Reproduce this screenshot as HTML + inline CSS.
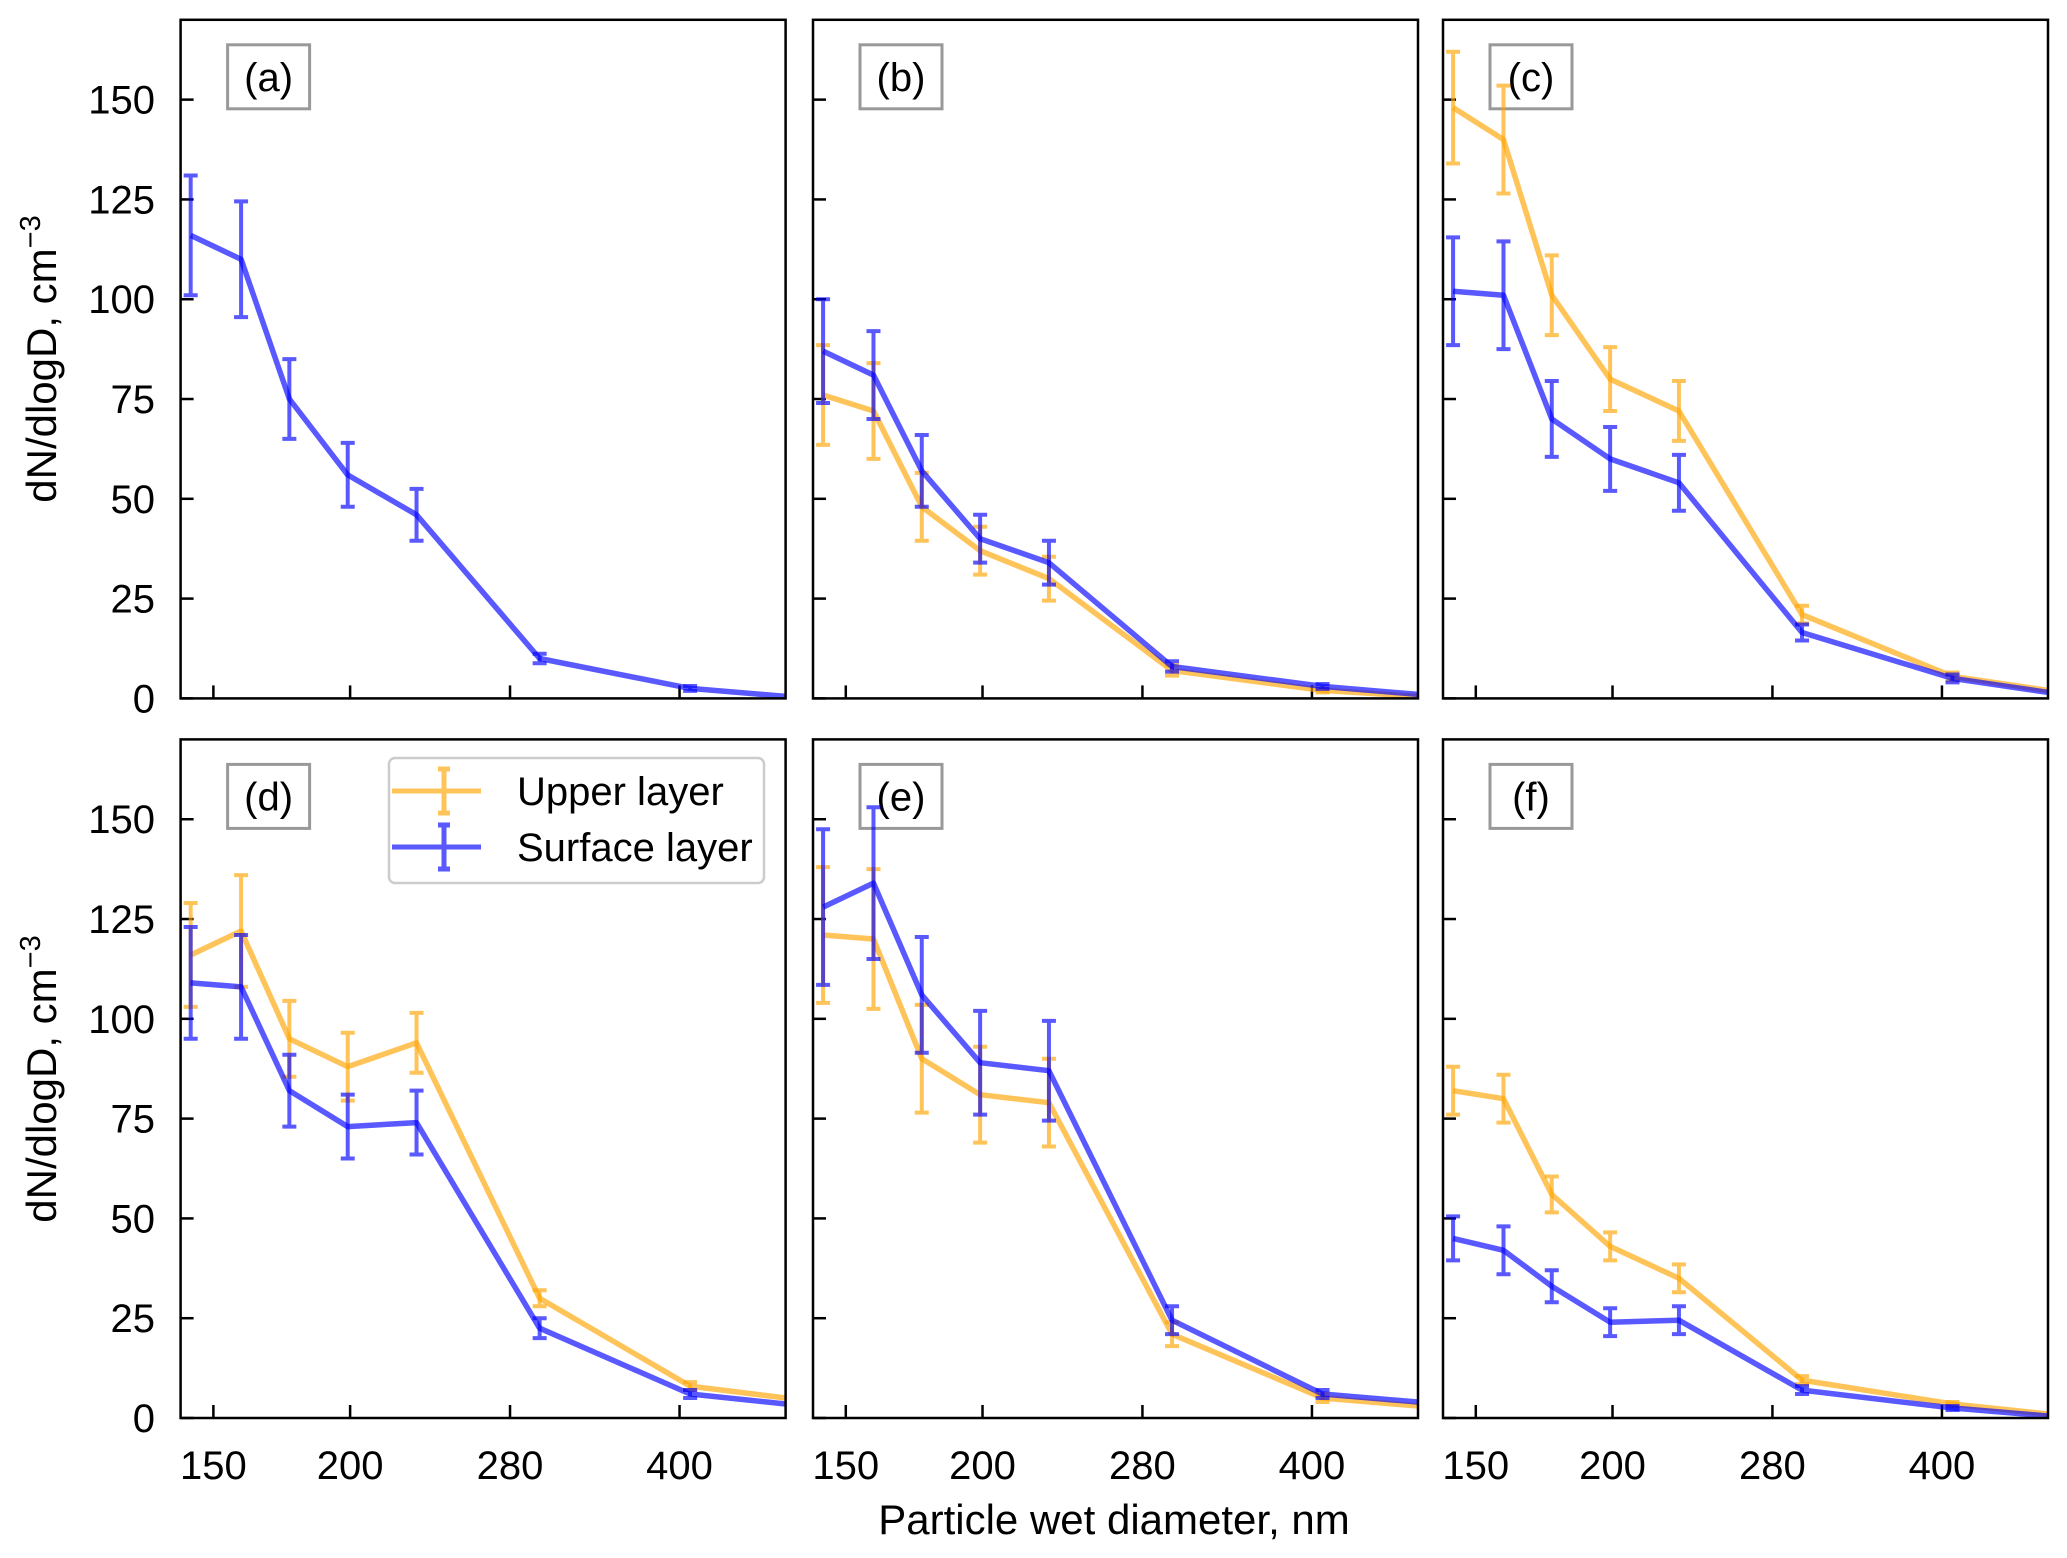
<!DOCTYPE html>
<html><head><meta charset="utf-8">
<style>
html,body{margin:0;padding:0;background:#fff;}
svg{display:block;font-family:"Liberation Sans",Arial,sans-serif;}
</style></head>
<body>
<svg id="chart" width="2067" height="1558" viewBox="0 0 2067 1558" xmlns="http://www.w3.org/2000/svg">
<text x="1114" y="1534" font-size="42" text-anchor="middle">Particle wet diameter, nm</text>
<text transform="translate(56,359) rotate(-90)" font-size="42" text-anchor="middle">dN/dlogD, cm<tspan dy="-16" font-size="29">−3</tspan></text>
<text transform="translate(56,1079) rotate(-90)" font-size="42" text-anchor="middle">dN/dlogD, cm<tspan dy="-16" font-size="29">−3</tspan></text>
</svg>
<script>
const diameters = [143, 159, 176, 199, 230, 298, 409, 500];
const yTicks = [0, 25, 50, 75, 100, 125, 150];
const xTicks = [150, 200, 280, 400];
const panelLabels = ['(a)', '(b)', '(c)', '(d)', '(e)', '(f)'];

const upperA = null, upperAErr = null;
const surfaceA = [116, 110, 75, 56, 46, 10, 2.5, 0.5];
const surfaceAErr = [15, 14.5, 10, 8, 6.5, 1.2, 0.6, 0];

const upperB = [76, 72, 48, 37, 30, 7, 2, 0.5];
const upperBErr = [12.5, 12, 8.5, 6, 5.5, 1.3, 0.5, 0];
const surfaceB = [87, 81, 57, 40, 34, 8, 3, 1];
const surfaceBErr = [13, 11, 9, 6, 5.5, 1.3, 0.6, 0];

const upperC = [148, 140, 101, 80, 72, 21, 5.5, 2];
const upperCErr = [14, 13.5, 10, 8, 7.5, 2.2, 1, 0];
const surfaceC = [102, 101, 70, 60, 54, 16.5, 5, 1.5];
const surfaceCErr = [13.5, 13.5, 9.5, 8, 7, 2, 1, 0];

const upperD = [116, 122, 95, 88, 94, 30, 8, 5];
const upperDErr = [13, 14, 9.5, 8.5, 7.5, 2, 1, 0];
const surfaceD = [109, 108, 82, 73, 74, 22.5, 6, 3.5];
const surfaceDErr = [14, 13, 9, 8, 8, 2.5, 1, 0];

const upperE = [121, 120, 90, 81, 79, 21, 5, 3];
const upperEErr = [17, 17.5, 13.5, 12, 11, 3, 1, 0];
const surfaceE = [128, 134, 106, 89, 87, 24.5, 6, 4];
const surfaceEErr = [19.5, 19, 14.5, 13, 12.5, 3.5, 1, 0];

const upperF = [82, 80, 56, 43, 35, 9.5, 3.5, 1];
const upperFErr = [6, 6, 4.5, 3.5, 3.5, 1, 0.5, 0];
const surfaceF = [45, 42, 33, 24, 24.5, 7, 2.5, 0.5];
const surfaceFErr = [5.5, 6, 4, 3.5, 3.5, 1, 0.5, 0];

const panels = [
  {up: upperA, upE: upperAErr, sf: surfaceA, sfE: surfaceAErr},
  {up: upperB, upE: upperBErr, sf: surfaceB, sfE: surfaceBErr},
  {up: upperC, upE: upperCErr, sf: surfaceC, sfE: surfaceCErr},
  {up: upperD, upE: upperDErr, sf: surfaceD, sfE: surfaceDErr},
  {up: upperE, upE: upperEErr, sf: surfaceE, sfE: surfaceEErr},
  {up: upperF, upE: upperFErr, sf: surfaceF, sfE: surfaceFErr}
];

const NS = 'http://www.w3.org/2000/svg';
const svg = document.getElementById('chart');
const colX = [180.6, 813, 1443];
const rowY = [19.8, 739.4];
const PW = 605, PH = 678.6;
const XMIN = 140, XMAX = 500, YMAX = 170;
const ORANGE = 'rgba(255,165,0,0.65)', BLUE = 'rgba(0,0,255,0.65)';

function mk(tag, attrs, parent) {
  const e = document.createElementNS(NS, tag);
  for (const k in attrs) e.setAttribute(k, attrs[k]);
  (parent || svg).appendChild(e);
  return e;
}

panels.forEach((p, i) => {
  const col = i % 3, row = Math.floor(i / 3);
  const x0 = colX[col], y0 = rowY[row];
  const xs = d => x0 + PW * Math.log(d / XMIN) / Math.log(XMAX / XMIN);
  const ys = v => y0 + PH - PH * v / YMAX;
  const g = mk('g', {});
  
  
  const clipId = 'clip' + i;
  const cp = mk('clipPath', {id: clipId}, g);
  mk('rect', {x: x0, y: y0, width: PW, height: PH}, cp);

  yTicks.forEach(t => {
    const tk = mk('line', {x1: x0, x2: x0 + 13, y1: ys(t), y2: ys(t), stroke: '#000', 'stroke-width': 2.5}, g);
    
    
    if (col === 0) {
      const tl = mk('text', {x: 155, y: ys(t) + 14, 'font-size': 40, 'text-anchor': 'end'}, g);
      tl.textContent = t;
      
      
    }
  });
  xTicks.forEach(t => {
    const tk = mk('line', {x1: xs(t), x2: xs(t), y1: y0 + PH, y2: y0 + PH - 13, stroke: '#000', 'stroke-width': 2.5}, g);
    
    
    if (row === 1) {
      const tl = mk('text', {x: xs(t), y: 1479, 'font-size': 40, 'text-anchor': 'middle'}, g);
      tl.textContent = t;
      
      
    }
  });

  const lb = mk('rect', {x: x0 + 47, y: y0 + 25, width: 82, height: 64, fill: '#fff', stroke: '#999', 'stroke-width': 3}, g);
  
  
  const lt = mk('text', {x: x0 + 88, y: y0 + 71, 'font-size': 40, 'text-anchor': 'middle'}, g);
  lt.textContent = panelLabels[i];
  
  

  const series = [];
  if (p.up) series.push({vals: p.up, err: p.upE, color: ORANGE, name: 'upper-layer'});
  series.push({vals: p.sf, err: p.sfE, color: BLUE, name: 'surface-layer'});
  series.forEach(s => {
    const sg = mk('g', {'clip-path': 'url(#' + clipId + ')'}, g);
    
    
    const pts = s.vals.map((v, k) => xs(diameters[k]).toFixed(1) + ',' + ys(v).toFixed(1)).join(' ');
    const pl = mk('polyline', {points: pts, fill: 'none', stroke: s.color, 'stroke-width': 5.5, 'stroke-linejoin': 'round'}, sg);
    
    
    s.vals.forEach((v, k) => {
      if (!s.err[k]) return;
      const x = xs(diameters[k]), yl = ys(v - s.err[k]), yh = ys(v + s.err[k]);
      const eb = mk('path', {d: `M${x},${yl}V${yh}M${x - 7},${yl}H${x + 7}M${x - 7},${yh}H${x + 7}`, stroke: s.color, 'stroke-width': 4, fill: 'none'}, sg);
      
      
    });
  });

  const fr = mk('rect', {x: x0, y: y0, width: PW, height: PH, fill: 'none', stroke: '#000', 'stroke-width': 2.5}, g);
  
  
});

const lg = mk('g', {});


mk('rect', {x: 389, y: 758, width: 375, height: 125, rx: 6, fill: 'rgba(255,255,255,0.85)', stroke: '#ccc', 'stroke-width': 2.5}, lg);
[['Upper layer', ORANGE, 791], ['Surface layer', BLUE, 847]].forEach(([txt, c, y]) => {
  const eg = mk('g', {}, lg);
  
  
  mk('path', {d: `M392,${y}H481M444,${y - 22}V${y + 22}M438,${y - 22}H450M438,${y + 22}H450`, stroke: c, 'stroke-width': 5, fill: 'none'}, eg);
  const t = mk('text', {x: 517, y: y + 14, 'font-size': 40}, eg);
  t.textContent = txt;
});
</script>
</body></html>
